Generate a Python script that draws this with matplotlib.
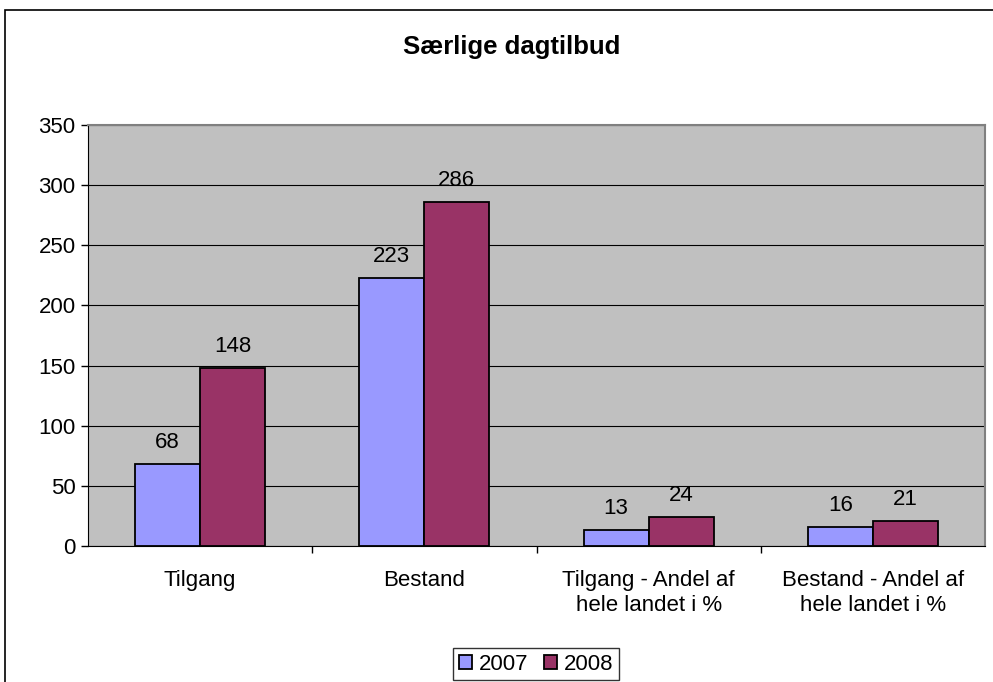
import matplotlib
matplotlib.use("Agg")
import matplotlib.pyplot as plt
from matplotlib.patches import Rectangle
import numpy as np

categories = ["Tilgang", "Bestand", "Tilgang - Andel af\nhele landet i %", "Bestand - Andel af\nhele landet i %"]
series_names = ["2007", "2008"]
values_2007 = [68, 223, 13, 16]
values_2008 = [148, 286, 24, 21]
yticks = [0, 50, 100, 150, 200, 250, 300, 350]

plt.rcParams['font.family'] = ['Liberation Sans', 'DejaVu Sans']
FS = 16

fig = plt.figure(figsize=(9.93, 6.82), dpi=100)
fig.patch.set_facecolor('white')
# outer chart border
fig.patches.append(Rectangle((5/993, -0.05), 1.1, (682-10)/682 + 0.05, transform=fig.transFigure,
                             fill=False, edgecolor='black', linewidth=1.2))

ax = fig.add_axes([88/993, (682-546)/682, (985-88)/993, (546-125)/682])
ax.set_facecolor('#C0C0C0')

x = np.arange(len(categories))
w = 0.29
b1 = ax.bar(x - w/2, values_2007, w, color='#9999FF', edgecolor='black', linewidth=1.3, label=series_names[0], zorder=3)
b2 = ax.bar(x + w/2, values_2008, w, color='#993366', edgecolor='black', linewidth=1.3, label=series_names[1], zorder=3)

for bars, vals in ((b1, values_2007), (b2, values_2008)):
    for r, v in zip(bars, vals):
        ax.annotate(str(v), (r.get_x() + r.get_width()/2, v), xytext=(0, 8), textcoords='offset points',
                    ha='center', va='bottom', fontsize=FS)

ax.set_xlim(-0.5, 3.5)
ax.set_ylim(0, 350)
ax.set_yticks(yticks)
ax.set_yticklabels([str(t) for t in yticks], fontsize=FS)
ax.yaxis.grid(True, color='black', linewidth=0.8, zorder=1)
ax.set_axisbelow(True)

ax.set_xticks(x)
ax.set_xticklabels(categories, fontsize=FS, linespacing=1.3)
ax.tick_params(axis='x', which='major', length=0, pad=17)
ax.set_xticks([0.5, 1.5, 2.5], minor=True)
ax.tick_params(axis='x', which='minor', length=5, width=1, direction='out')
ax.tick_params(axis='y', length=5, width=1, direction='out', pad=4)

for s in ['top', 'right']:
    ax.spines[s].set_color('#808080')
    ax.spines[s].set_linewidth(1.5)
ax.spines['left'].set_color('black')
ax.spines['bottom'].set_color('black')

fig.text(512/993, (682-47)/682, "Særlige dagtilbud", fontsize=18.5, fontweight='bold', ha='center', va='center')

leg = fig.legend(loc='center', bbox_to_anchor=(536/993, (682-664)/682), ncol=2, frameon=True,
                 fontsize=FS, handlelength=0.6, handleheight=0.6, handletextpad=0.3, columnspacing=0.7,
                 borderpad=0.25, fancybox=False, edgecolor='black')
leg.get_frame().set_linewidth(1.0)

fig.savefig("out.png", dpi=100, facecolor='white')
